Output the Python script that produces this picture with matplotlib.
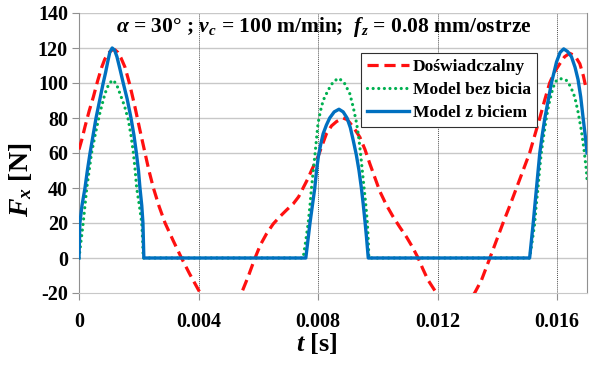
import matplotlib
matplotlib.use("Agg")
import matplotlib.pyplot as plt

plt.rcParams['font.family'] = ['Liberation Serif', 'DejaVu Serif']
plt.rcParams['font.weight'] = 'bold'
plt.rcParams['axes.labelweight'] = 'bold'
plt.rcParams['mathtext.fontset'] = 'custom'
plt.rcParams['mathtext.rm'] = 'Liberation Serif:bold'
plt.rcParams['mathtext.it'] = 'Liberation Serif:italic:bold'
plt.rcParams['mathtext.bf'] = 'Liberation Serif:bold'

# ---- data ----
# Doświadczalny (experimental)
t_exp = [0, 0.0001, 0.0002, 0.00034, 0.00048, 0.00062, 0.00076, 0.00086, 0.00098, 0.0011,
         0.0012, 0.0013, 0.0014, 0.00154, 0.0017, 0.00187, 0.00204, 0.0022, 0.00234, 0.00249,
         0.00268, 0.00288, 0.00315, 0.00343, 0.0037, 0.00399, 0.0044, 0.0048, 0.0052, 0.00544,
         0.00566, 0.00589, 0.00607, 0.00628, 0.0065, 0.00672, 0.00695, 0.00717, 0.00735, 0.0075,
         0.00765, 0.00778, 0.008, 0.00815, 0.00828, 0.00845, 0.00862, 0.00884, 0.00898, 0.0091,
         0.00925, 0.0094, 0.00957, 0.00973, 0.0099, 0.01007, 0.01028, 0.01051, 0.01074, 0.01096,
         0.01115, 0.01135, 0.0115, 0.01168, 0.01196, 0.0124, 0.0128, 0.01324, 0.01347, 0.01375,
         0.01397, 0.01419, 0.01442, 0.01464, 0.01486, 0.01508, 0.01525, 0.01542, 0.01558, 0.01575,
         0.01592, 0.01609, 0.01625, 0.01642, 0.0166, 0.01676, 0.01688, 0.01698]
F_exp = [62, 68, 75, 84, 92, 101, 109, 113.5, 117, 118.8,
         119, 117.5, 114.5, 109, 99, 86.5, 73, 60.7, 50, 40,
         29.5, 20, 10, 0, -9, -18, -30, -35, -30, -20,
         -10.7, 0, 7.5, 14, 19.5, 23.6, 27.5, 31, 35, 40,
         45, 50, 58, 65, 71, 75.5, 78, 80, 79, 76.5,
         73, 69, 62, 54, 46, 38, 30.5, 23.6, 17.5, 12,
         6.5, 0, -6, -12.6, -20, -30, -30, -20, -12.6, 0,
         10, 20, 30, 40, 50, 60, 70, 80, 90, 100,
         106.5, 111, 115, 117, 115.5, 111, 104, 96]

# Model bez bicia (no runout)
t_nr = [0, 0.00007, 0.00014, 0.0002, 0.00026, 0.00034, 0.00042, 0.00056, 0.0007, 0.00087,
        0.001, 0.00113, 0.00125, 0.00137, 0.00152, 0.00165, 0.00174, 0.00182, 0.00188, 0.00193,
        0.00202, 0.0021, 0.00213, 0.00215, 0.0075, 0.00759, 0.00767, 0.00773, 0.00778, 0.00784,
        0.00789, 0.008, 0.00808, 0.00817, 0.00834, 0.00852, 0.0087, 0.00888, 0.00906, 0.00918,
        0.00929, 0.00936, 0.00942, 0.00948, 0.00954, 0.0096, 0.00965, 0.00968, 0.0097, 0.01508,
        0.01517, 0.01525, 0.0153, 0.01536, 0.01541, 0.01547, 0.01555, 0.01564, 0.01572, 0.01581,
        0.0159, 0.01598, 0.01615, 0.01631, 0.01645, 0.01659, 0.0167, 0.01681, 0.0169, 0.01698,
        0.017]
F_nr = [0, 10, 20, 30, 40, 50, 60, 72, 83, 94,
        99.5, 101.7, 99.5, 94, 87, 79, 70, 60, 50, 40,
        30, 20, 10, 0, 0, 10, 20, 30, 40, 50,
        58, 77, 84, 90, 96, 101, 102.7, 100, 94, 86,
        77, 69, 60, 50, 40, 30, 20, 10, 0, 0,
        10, 20, 30, 40, 50, 60, 70, 80, 87.5, 94,
        99, 101.5, 102.5, 101.5, 98, 92, 83.5, 73, 62, 50,
        45]

# Model z biciem (with runout)
t_ro = [0, 0.00003, 0.0001, 0.0002, 0.00028, 0.00037, 0.00047, 0.00057, 0.00069, 0.00081,
        0.00089, 0.00096, 0.00103, 0.00111, 0.00119, 0.00127, 0.00137, 0.00148, 0.00161, 0.00174,
        0.00184, 0.00192, 0.00199, 0.00204, 0.0021, 0.00214, 0.00217, 0.00759, 0.00766, 0.00773,
        0.00781, 0.00789, 0.00795, 0.00801, 0.00809, 0.00817, 0.00828, 0.00839, 0.00854, 0.0087,
        0.00884, 0.00897, 0.00908, 0.00918, 0.00928, 0.00937, 0.00945, 0.00951, 0.00957, 0.00962,
        0.00968, 0.01508, 0.01514, 0.0152, 0.01531, 0.01542, 0.0155, 0.01559, 0.0157, 0.01581,
        0.01598, 0.0161, 0.01622, 0.01635, 0.01648, 0.0166, 0.0167, 0.01679, 0.01687, 0.01694,
        0.017]
F_ro = [0, 20, 30, 40, 50, 60, 70, 80, 90, 100,
        106, 112, 117.5, 120, 118.8, 115, 108, 100, 91, 80,
        70, 60, 50, 40, 30, 20, 0, 0, 10, 20,
        30, 40, 50, 58, 65, 71, 76, 80, 83.5, 85,
        83.5, 80, 74.5, 67, 59, 50, 40, 31, 21, 12,
        0, 0, 10, 20, 40, 60, 70, 80, 90, 100,
        112, 117.5, 119.5, 118, 115, 109, 102, 92, 80, 70,
        60]

labels = ['Doświadczalny', 'Model bez bicia', 'Model z biciem']
x_ticks = [0, 0.004, 0.008, 0.012, 0.016]
x_ticklabels = ['0', '0.004', '0.008', '0.012', '0.016']
y_ticks = [-20, 0, 20, 40, 60, 80, 100, 120, 140]

fig = plt.figure(figsize=(5.99, 3.66), dpi=100)
ax = fig.add_axes([79/599, 1-293/366, (587-79)/599, (293-13)/366])

ax.plot(t_exp, F_exp, color='#FF1010', lw=2.3, linestyle=(0, (3.5, 1.8)), label=labels[0], zorder=3)
ax.plot(t_nr, F_nr, color='#00B050', lw=2.3, linestyle=(0, (0.01, 1.75)),
        dash_capstyle='round', label=labels[1], zorder=4)
ax.plot(t_ro, F_ro, color='#0070C0', lw=2.4, label=labels[2], zorder=5,
        solid_joinstyle='round')

ax.set_xlim(0, 0.017)
ax.set_ylim(-20, 140)
ax.set_xticks(x_ticks)
ax.set_xticklabels(x_ticklabels)
ax.set_yticks(y_ticks)
ax.set_yticklabels([str(v) for v in y_ticks])

for v in y_ticks[1:]:
    ax.axhline(v, color='#C8C8C8', lw=1.0, zorder=1)
for v in x_ticks[1:]:
    ax.axvline(v, color='#505050', lw=0.7, linestyle=(0, (1, 1)), zorder=1)

ax.spines['top'].set_visible(False)
ax.spines['left'].set_color('#909090')
ax.spines['right'].set_color('#909090')
ax.spines['bottom'].set_color('#C8C8C8')
ax.tick_params(axis='y', length=5, color='#909090', labelsize=14.5, pad=3)
ax.tick_params(axis='x', length=5, color='#909090', labelsize=14.5, pad=9)

ax.set_xlabel(r'$t$ [s]', fontsize=19, fontweight='bold', labelpad=0)
ax.xaxis.set_label_coords((316.5-79)/508, -0.135)
ax.set_ylabel(r'$F_x$ [N]', fontsize=20, fontweight='bold')
ax.yaxis.set_label_coords(-0.088, (293-180)/280)

ax.text(0.481, 0.95, r'$\alpha$ = 30° ; $v_c$ = 100 m/min;  $f_z$ = 0.08 mm/ostrze',
        transform=ax.transAxes, ha='center', va='center', fontsize=15.5)

leg = ax.legend(loc='upper right', bbox_to_anchor=(0.9016, 0.857), borderaxespad=0,
                fontsize=12.6, handlelength=2.4, handletextpad=0.2, labelspacing=0.37,
                borderpad=0.35, fancybox=False, framealpha=1, edgecolor='#303030')
leg.get_frame().set_linewidth(0.8)

fig.savefig('out.png', dpi=100)
